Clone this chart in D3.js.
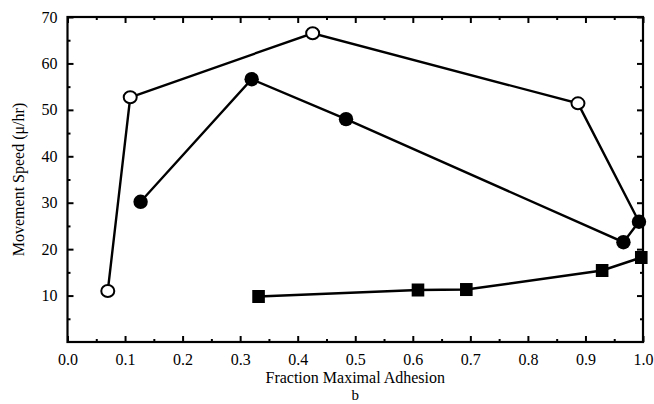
<!DOCTYPE html>
<html>
<head>
<meta charset="utf-8">
<script src="https://cdn.jsdelivr.net/npm/d3@7"></script>
<style>
  html, body { margin: 0; padding: 0; background: #fff; }
  svg, svg text { font-family: "Liberation Serif", "Times New Roman", Times, serif !important; }
</style>
</head>
<body>
<svg id="chart" width="654" height="404"></svg>
<script>
// Movement speed against fraction of maximal adhesion, three cell series
const openX   = [0.070, 0.109, 0.426, 0.887, 0.993];
const openY   = [11.0, 52.7, 66.5, 51.4, 25.9];
const filledX = [0.127, 0.320, 0.484, 0.966, 0.993];
const filledY = [30.2, 56.6, 48.0, 21.5, 25.9];
const squareX = [0.332, 0.609, 0.693, 0.929, 0.997];
const squareY = [9.8, 11.2, 11.3, 15.4, 18.2];

const xTicks = [0, 0.1, 0.2, 0.3, 0.4, 0.5, 0.6, 0.7, 0.8, 0.9, 1.0];
const yTicks = [10, 20, 30, 40, 50, 60, 70];
const xTitle = "Fraction Maximal Adhesion";
const yTitle = "Movement Speed (\u03bc/hr)";
const panelLabel = "b";

const svg = d3.select("#chart");
const m = { left: 67.5, right: 643, top: 17, bottom: 342 };

const x = d3.scaleLinear().domain([0, 1]).range([m.left, m.right]);
const y = d3.scaleLinear().domain([0, 70]).range([m.bottom, m.top]);

const xMinor = d3.range(0.05, 1, 0.1);
const yMinor = d3.range(5, 70, 10);

function styleAxis(g) {
  g.attr("font-family", null);
  g.select(".domain").remove();
  g.selectAll("line").attr("stroke", "#000").attr("stroke-width", 2);
  g.selectAll("text").attr("fill", "#000").style("font-size", "16px");
}

// bottom axis: labelled major ticks pointing inward, plus minor ticks
svg.append("g").attr("transform", `translate(0,${m.bottom})`)
  .call(d3.axisBottom(x).tickValues(xTicks).tickFormat(d3.format(".1f"))
    .tickSizeInner(-6).tickSizeOuter(0).tickPadding(12))
  .call(styleAxis);
svg.append("g").attr("transform", `translate(0,${m.bottom})`)
  .call(d3.axisBottom(x).tickValues(xMinor).tickFormat("").tickSizeInner(-3).tickSizeOuter(0))
  .call(styleAxis);

// top axis ticks
svg.append("g").attr("transform", `translate(0,${m.top})`)
  .call(d3.axisTop(x).tickValues(xTicks).tickFormat("").tickSizeInner(-6).tickSizeOuter(0))
  .call(styleAxis);
svg.append("g").attr("transform", `translate(0,${m.top})`)
  .call(d3.axisTop(x).tickValues(xMinor).tickFormat("").tickSizeInner(-3).tickSizeOuter(0))
  .call(styleAxis);

// left axis
svg.append("g").attr("transform", `translate(${m.left},0)`)
  .call(d3.axisLeft(y).tickValues(yTicks).tickSizeInner(-6).tickSizeOuter(0).tickPadding(10))
  .call(styleAxis);
svg.append("g").attr("transform", `translate(${m.left},0)`)
  .call(d3.axisLeft(y).tickValues(yMinor).tickFormat("").tickSizeInner(-3).tickSizeOuter(0))
  .call(styleAxis);

// right axis ticks
svg.append("g").attr("transform", `translate(${m.right},0)`)
  .call(d3.axisRight(y).tickValues(yTicks).tickFormat("").tickSizeInner(-6).tickSizeOuter(0))
  .call(styleAxis);
svg.append("g").attr("transform", `translate(${m.right},0)`)
  .call(d3.axisRight(y).tickValues(yMinor).tickFormat("").tickSizeInner(-3).tickSizeOuter(0))
  .call(styleAxis);

// frame
svg.append("rect")
  .attr("x", x(0)).attr("y", y(70))
  .attr("width", x(1) - x(0)).attr("height", y(0) - y(70))
  .attr("fill", "none").attr("stroke", "#000").attr("stroke-width", 2.2);

const line = d3.line().x(d => x(d[0])).y(d => y(d[1]));
const zip = (a, b) => a.map((v, i) => [v, b[i]]);

const openPts = zip(openX, openY);
const filledPts = zip(filledX, filledY);
const squarePts = zip(squareX, squareY);

[openPts, filledPts, squarePts].forEach(pts => {
  svg.append("path").datum(pts).attr("d", line)
    .attr("fill", "none").attr("stroke", "#000").attr("stroke-width", 2.4);
});

// open circles (last point sits under the filled series)
svg.selectAll(".open").data(openPts.slice(0, -1)).join("ellipse")
  .attr("cx", d => x(d[0])).attr("cy", d => y(d[1]))
  .attr("rx", 6.5).attr("ry", 6)
  .attr("fill", "#fff").attr("stroke", "#000").attr("stroke-width", 2);

svg.selectAll(".filled").data(filledPts).join("circle")
  .attr("cx", d => x(d[0])).attr("cy", d => y(d[1]))
  .attr("r", 7.2).attr("fill", "#000");

svg.selectAll(".square").data(squarePts).join("rect")
  .attr("x", d => x(d[0]) - 6.3).attr("y", d => y(d[1]) - 6.5)
  .attr("width", 12.6).attr("height", 13).attr("fill", "#000");

// titles
svg.append("text")
  .attr("x", (m.left + m.right) / 2).attr("y", 383)
  .attr("text-anchor", "middle").style("font-size", "16px").attr("fill", "#000")
  .text(xTitle);
svg.append("text")
  .attr("x", (m.left + m.right) / 2).attr("y", 400)
  .attr("text-anchor", "middle").style("font-size", "15px").attr("fill", "#000")
  .text(panelLabel);
svg.append("text")
  .attr("transform", `translate(24,${(m.top + m.bottom) / 2}) rotate(-90)`)
  .attr("text-anchor", "middle").style("font-size", "16px").attr("fill", "#000")
  .text(yTitle);
</script>
</body>
</html>
